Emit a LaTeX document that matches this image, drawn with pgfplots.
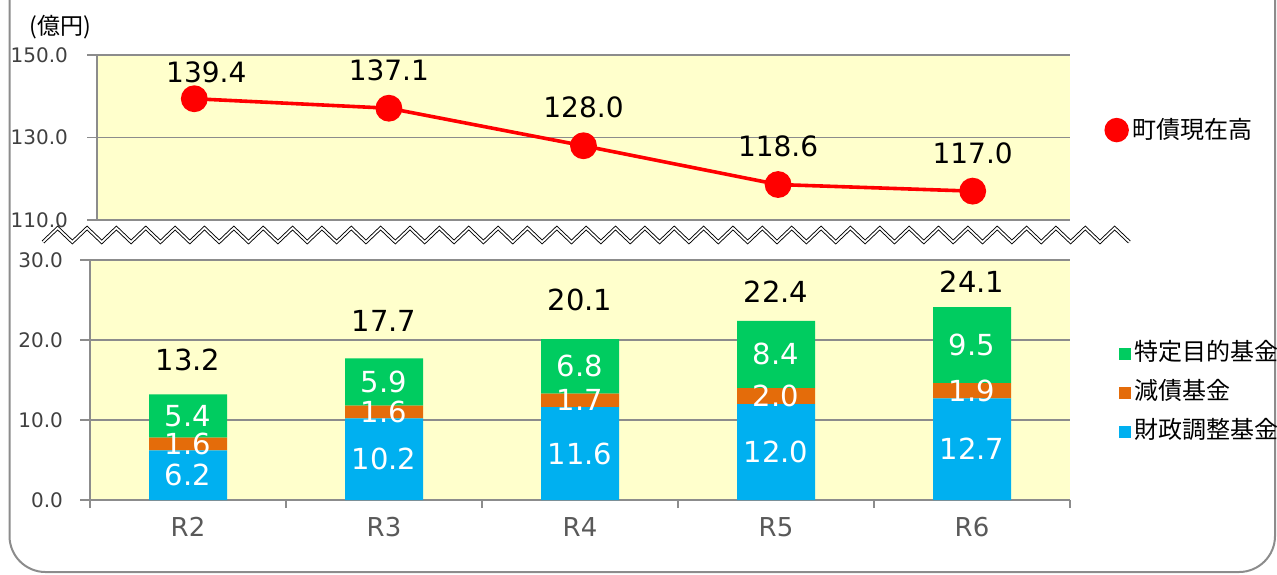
\documentclass[border=0pt]{standalone}
\usepackage{fontspec}
\setmainfont{DejaVu Sans}
\newfontfamily\jp{Noto Sans CJK JP}
\usepackage{pgfplots}
\usepackage{pgfplotstable}
\pgfplotsset{compat=1.18}
\definecolor{bgy}{RGB}{255,255,204}
\definecolor{cblue}{RGB}{0,176,240}
\definecolor{corange}{RGB}{228,108,10}
\definecolor{cgreen}{RGB}{0,204,96}
\definecolor{cgrid}{RGB}{140,140,140}
\definecolor{ctick}{RGB}{64,64,64}
\definecolor{cxl}{RGB}{89,89,89}

\pgfplotstableread{
x y lab dx dy
0 139.4 139.4 6 13
1 137.1 137.1 0 19
2 128.0 128.0 0 19
3 118.6 118.6 0 19
4 117.0 117.0 0 19
}\debt
\pgfplotstableread{
x y lab
0 6.2 6.2
1 10.2 10.2
2 11.6 11.6
3 12.0 12.0
4 12.7 12.7
}\fundA
\pgfplotstableread{
x y lab
0 1.6 1.6
1 1.6 1.6
2 1.7 1.7
3 2.0 2.0
4 1.9 1.9
}\fundB
\pgfplotstableread{
x y lab
0 5.4 5.4
1 5.9 5.9
2 6.8 6.8
3 8.4 8.4
4 9.5 9.5
}\fundC
\pgfplotstableread{
x y lab dy
0 13.2 13.2 17
1 17.7 17.7 18.5
2 20.1 20.1 19.5
3 22.4 22.4 14.5
4 24.1 24.1 12.5
}\total

\pgfplotsset{
  seglabel/.style={point meta=explicit symbolic, nodes near coords,
    every node near coord/.append style={anchor=center, text=white,
      font=\fontsize{14.5}{16}\selectfont}},
}

\begin{document}
\begin{tikzpicture}
\useasboundingbox (0,0) rectangle (638.5pt,-287pt);
% frame
\draw[cgrid, line width=1pt, rounded corners=18pt] (4.75pt,5pt) -- (4.75pt,-286pt) -- (637.5pt,-286pt) -- (637.5pt,5pt);
% unit label
\node[font=\jp\fontsize{11.5}{13}\selectfont, text=black] at (30pt,-13.5pt) {(億円)};

% top axis
\begin{axis}[
  at={(48.5pt,-27.5pt)}, anchor=north west,
  scale only axis, width=486.5pt, height=82.5pt,
  xmin=-0.5, xmax=4.5, ymin=110, ymax=150,
  axis y line*=left, axis x line*=bottom,
  axis line style={cgrid, line width=0.6pt},
  axis background/.style={fill=bgy},
  ytick={110,130,150}, ymajorgrids,
  grid style={cgrid, line width=0.6pt},
  xtick=\empty,
  tick align=outside, major tick length=5pt,
  tick style={cgrid, line width=0.6pt},
  /pgf/number format/assume math mode=true,
  yticklabel style={/pgf/number format/.cd, fixed, fixed zerofill, precision=1, /tikz/.cd,
     font=\fontsize{10}{11}\selectfont, text=ctick, xshift=-6pt},
  legend style={at={(1.035,0.545)}, anchor=west, draw=none, fill=none,
     font=\jp\fontsize{12}{14}\selectfont, inner sep=0pt},
  legend image code/.code={\fill[red] (0pt,0pt) circle (5.2pt);},
  clip=false,
]
\addplot[red, line width=1.8pt, mark=*, mark size=5.8pt, mark options={fill=red, draw=red},
  point meta=explicit symbolic, nodes near coords,
  visualization depends on={\thisrow{dx} \as \ddx},
  visualization depends on={\thisrow{dy} \as \ddy},
  every node near coord/.append style={anchor=center, text=black,
     font=\fontsize{14}{16}\selectfont, xshift=\ddx pt, yshift=\ddy pt}]
  table[x=x, y=y, meta=lab]{\debt};
\addlegendentry{町債現在高}
\end{axis}

% break mark
\draw[line width=0.45pt, double=white, double distance=0.9pt, line join=miter]
  (21.5pt,-121pt) \foreach \i in {1,...,74} { -- ({21.5pt+\i*7.34pt}, {ifthenelse(isodd(\i),-114,-121)*1pt}) };

% bottom axis
\begin{axis}[
  at={(45pt,-130pt)}, anchor=north west,
  scale only axis, width=490pt, height=120pt,
  xmin=-0.5, xmax=4.5, ymin=0, ymax=30,
  ybar stacked, bar width=39pt,
  axis y line*=left, axis x line*=bottom,
  axis line style={cgrid, line width=0.6pt},
  axis background/.style={fill=bgy},
  ytick={0,10,20,30}, ymajorgrids,
  grid style={cgrid, line width=0.6pt},
  xtick={0,1,2,3,4}, xticklabels={R2,R3,R4,R5,R6},
  major x tick style={draw=none},
  extra x ticks={-0.5,0.5,1.5,2.5,3.5,4.5}, extra x tick labels={},
  extra x tick style={major x tick style={draw=cgrid, line width=0.6pt}, major tick length=4pt},
  tick align=outside, major tick length=5pt,
  tick style={cgrid, line width=0.6pt},
  /pgf/number format/assume math mode=true,
  yticklabel style={/pgf/number format/.cd, fixed, fixed zerofill, precision=1, /tikz/.cd,
     font=\fontsize{10}{11}\selectfont, text=ctick, xshift=-5pt},
  xticklabel style={font=\fontsize{13}{15}\selectfont, text=cxl, yshift=0pt},
  legend style={at={(1.043,0.69)}, anchor=north west, draw=none, fill=none,
     font=\jp\fontsize{12}{14}\selectfont, row sep=4pt,
     nodes={inner sep=2pt, text height=9pt, text depth=2.5pt}},
  legend cell align=left,
  reverse legend,
  clip=false,
]
\addplot[fill=cblue, draw=none,
  legend image code/.code={\fill[cblue] (0pt,-3pt) rectangle (6pt,3pt);}, seglabel]
  table[x=x, y=y, meta=lab]{\fundA};
\addlegendentry{財政調整基金}
\addplot[fill=corange, draw=none,
  legend image code/.code={\fill[corange] (0pt,-3pt) rectangle (6pt,3pt);}, seglabel]
  table[x=x, y=y, meta=lab]{\fundB};
\addlegendentry{減債基金}
\addplot[fill=cgreen, draw=none,
  legend image code/.code={\fill[cgreen] (0pt,-3pt) rectangle (6pt,3pt);}, seglabel]
  table[x=x, y=y, meta=lab]{\fundC};
\addlegendentry{特定目的基金}
\end{axis}

% totals overlay
\begin{axis}[
  at={(45pt,-130pt)}, anchor=north west,
  scale only axis, width=490pt, height=120pt,
  xmin=-0.5, xmax=4.5, ymin=0, ymax=30,
  hide axis, clip=false,
]
\addplot[only marks, mark=none, draw=none, fill=none,
  point meta=explicit symbolic, nodes near coords,
  visualization depends on={\thisrow{dy} \as \ddy},
  every node near coord/.append style={anchor=center, text=black,
     font=\fontsize{14.5}{16}\selectfont, yshift=\ddy pt}]
  table[x=x, y=y, meta=lab]{\total};
\end{axis}
\end{tikzpicture}
\end{document}
